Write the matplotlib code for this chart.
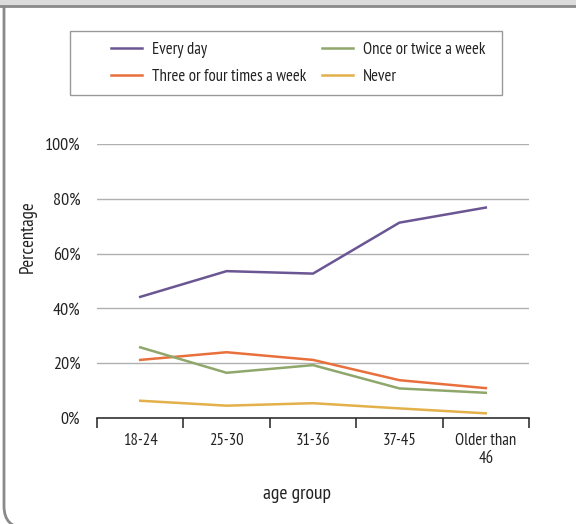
import matplotlib
matplotlib.use("Agg")
import matplotlib.pyplot as plt
from matplotlib.patches import FancyBboxPatch, Rectangle
from matplotlib.lines import Line2D

plt.rcParams['font.family'] = ['PT Sans Narrow', 'DejaVu Sans']

categories = ["18-24", "25-30", "31-36", "37-45", "Older than\n46"]
every_day = [44.2, 53.6, 52.7, 71.3, 76.8]
once_twice = [25.8, 16.5, 19.3, 10.8, 9.2]
three_four = [21.2, 24.0, 21.2, 13.8, 10.9]
never = [6.3, 4.5, 5.4, 3.5, 1.7]
yticks = [0, 20, 40, 60, 80, 100]
ytick_labels = ["0%", "20%", "40%", "60%", "80%", "100%"]

W, H = 576, 524
fig = plt.figure(figsize=(W/100, H/100), dpi=100)

def fx(px): return px / W
def fy(py): return 1 - py / H

TXT = "#222222"
FS = 12

# frame decorations (pixel coordinates, origin bottom-left)
fig.patches.append(FancyBboxPatch((4, -4), 800, H + 50,
                                  boxstyle="round,pad=0,rounding_size=22",
                                  transform=None, facecolor="white",
                                  edgecolor="#8a8a8a", linewidth=2.0, zorder=-3))
fig.patches.append(Rectangle((0, H - 6), W, 6, transform=None,
                             facecolor="#dcdcdc", edgecolor="none", zorder=-2))
fig.lines.append(Line2D([0, W], [H - 6, H - 6], transform=None, color="#8a8a8a",
                        lw=2.0, zorder=-1))

ax = fig.add_axes([fx(97), fy(418), fx(529) - fx(97), fy(144) - fy(418)])
ax.set_facecolor("none")
x = list(range(len(categories)))
lw = 1.8
c_ed, c_tf, c_ot, c_nv = "#6b5694", "#e8703c", "#8fa76b", "#e3b04a"
ax.plot(x, every_day, color=c_ed, lw=lw, zorder=3)
ax.plot(x, three_four, color=c_tf, lw=lw, zorder=3)
ax.plot(x, once_twice, color=c_ot, lw=lw, zorder=3)
ax.plot(x, never, color=c_nv, lw=lw, zorder=3)

ax.set_xlim(-0.5, len(categories) - 0.5)
ax.set_ylim(0, 100)
ax.set_yticks(yticks)
ax.set_yticklabels(ytick_labels)
ax.set_xticks([i + 0.5 for i in range(-1, len(categories))])
ax.set_xticklabels([])
ax.set_xticks(x, minor=True)
ax.set_xticklabels(categories, minor=True, linespacing=1.15)
ax.tick_params(axis="x", which="major", length=7, width=1.1, direction="out", color=TXT)
ax.tick_params(axis="x", which="minor", length=0, pad=11, labelsize=FS, labelcolor=TXT)
ax.tick_params(axis="y", length=0, pad=12, labelsize=13, labelcolor=TXT)
for s in ["top", "right", "left"]:
    ax.spines[s].set_visible(False)
ax.spines["bottom"].set_color(TXT)
ax.spines["bottom"].set_linewidth(1.1)
ax.grid(axis="y", color="#b0b0b0", lw=1.0)
ax.set_axisbelow(True)

fig.text(fx(28), fy(237), "Percentage", rotation=90, ha="center", va="center",
         fontsize=13.5, color=TXT)
fig.text(fx(297), fy(494), "age group", ha="center", va="center", fontsize=14, color=TXT)

# legend
fig.patches.append(Rectangle((fx(70), fy(95)), fx(502) - fx(70), fy(31) - fy(95),
                             transform=fig.transFigure, facecolor="white",
                             edgecolor="#999999", lw=1.0, zorder=1))
handles = [Line2D([], [], color=c_ed, lw=lw), Line2D([], [], color=c_tf, lw=lw),
           Line2D([], [], color=c_ot, lw=lw), Line2D([], [], color=c_nv, lw=lw)]
labels = ["Every day", "Three or four times a week", "Once or twice a week", "Never"]
leg = fig.legend(handles, labels, ncol=2, loc="upper left",
                 bbox_to_anchor=(fx(111), fy(42)),
                 fontsize=FS, frameon=False, handlelength=1.85, handletextpad=0.6,
                 borderpad=0, borderaxespad=0, labelspacing=0.68, columnspacing=0.95)
for t in leg.get_texts():
    t.set_color(TXT)

fig.savefig("out.png", dpi=100)
